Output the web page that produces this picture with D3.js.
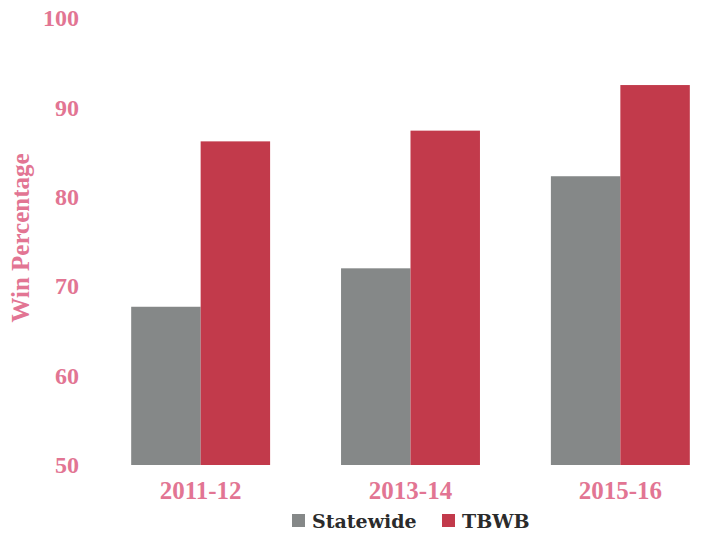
<!DOCTYPE html>
<html>
<head>
<meta charset="utf-8">
<script src="https://cdn.jsdelivr.net/npm/d3@7"></script>
<style>
  body { margin: 0; background: #fff; }
  text { font-family: "Liberation Serif", "DejaVu Serif", serif; font-weight: bold; }
</style>
</head>
<body>
<svg id="chart" width="713" height="535"></svg>
<script>
// values
const seasons = ["2011-12", "2013-14", "2015-16"];
const seriesNames = ["Statewide", "TBWB"];
const statewide = [67.7, 72.0, 82.3];
const tbwb = [86.2, 87.4, 92.5];
const yTicks = [50, 60, 70, 80, 90, 100];

const colors = { Statewide: "#858888", TBWB: "#c23a4b" };
const pink = "#e27593";

const svg = d3.select("#chart");

const rows = seasons.map((s, i) => ({ season: s, Statewide: statewide[i], TBWB: tbwb[i] }));

const x0 = d3.scaleBand().domain(seasons).range([106, 715]).paddingInner(0.338).paddingOuter(0.12);
const x1 = d3.scaleBand().domain(seriesNames).range([0, x0.bandwidth()]);
const y = d3.scaleLinear().domain([50, 100]).range([465, 18]);

// bars
svg.append("g")
  .selectAll("g")
  .data(rows)
  .join("g")
  .attr("transform", (d) => `translate(${x0(d.season)},0)`)
  .selectAll("rect")
  .data((d) => seriesNames.map((k) => ({ key: k, value: d[k] })))
  .join("rect")
  .attr("x", (d) => x1(d.key))
  .attr("y", (d) => y(d.value))
  .attr("width", x1.bandwidth())
  .attr("height", (d) => y(50) - y(d.value))
  .attr("fill", (d) => colors[d.key]);

// y axis (labels only)
const yAxis = svg.append("g")
  .attr("transform", "translate(79,0)")
  .call(d3.axisLeft(y).tickValues(yTicks).tickSize(0).tickPadding(0));
yAxis.select(".domain").remove();
yAxis.selectAll("text")
  .attr("fill", pink)
  .style("font-size", "24px")
  .style("font-family", "'Liberation Serif', serif")
  .style("font-weight", "bold");

// x axis (labels only)
const xAxis = svg.append("g")
  .attr("transform", "translate(0,476)")
  .call(d3.axisBottom(x0).tickSize(0).tickPadding(0));
xAxis.select(".domain").remove();
xAxis.selectAll("text")
  .attr("fill", pink)
  .attr("dy", "0.9em")
  .style("font-size", "25px")
  .style("font-family", "'Liberation Serif', serif")
  .style("font-weight", "bold");

// y title
svg.append("text")
  .attr("transform", "translate(29,238) rotate(-90)")
  .attr("text-anchor", "middle")
  .attr("fill", pink)
  .style("font-size", "25px")
  .text("Win Percentage");

// legend
const legend = svg.append("g").attr("transform", "translate(292,528)");
const legendX = [0, 150];
seriesNames.forEach((k, i) => {
  const g = legend.append("g").attr("transform", `translate(${legendX[i]},0)`);
  g.append("rect")
    .attr("x", 0).attr("y", -14)
    .attr("width", 13).attr("height", 13)
    .attr("fill", colors[k]);
  g.append("text")
    .attr("x", 20)
    .attr("fill", "#2b2b2b")
    .style("font-family", "'DejaVu Serif', serif")
    .style("font-size", "19px")
    .text(k);
});
</script>
</body>
</html>
